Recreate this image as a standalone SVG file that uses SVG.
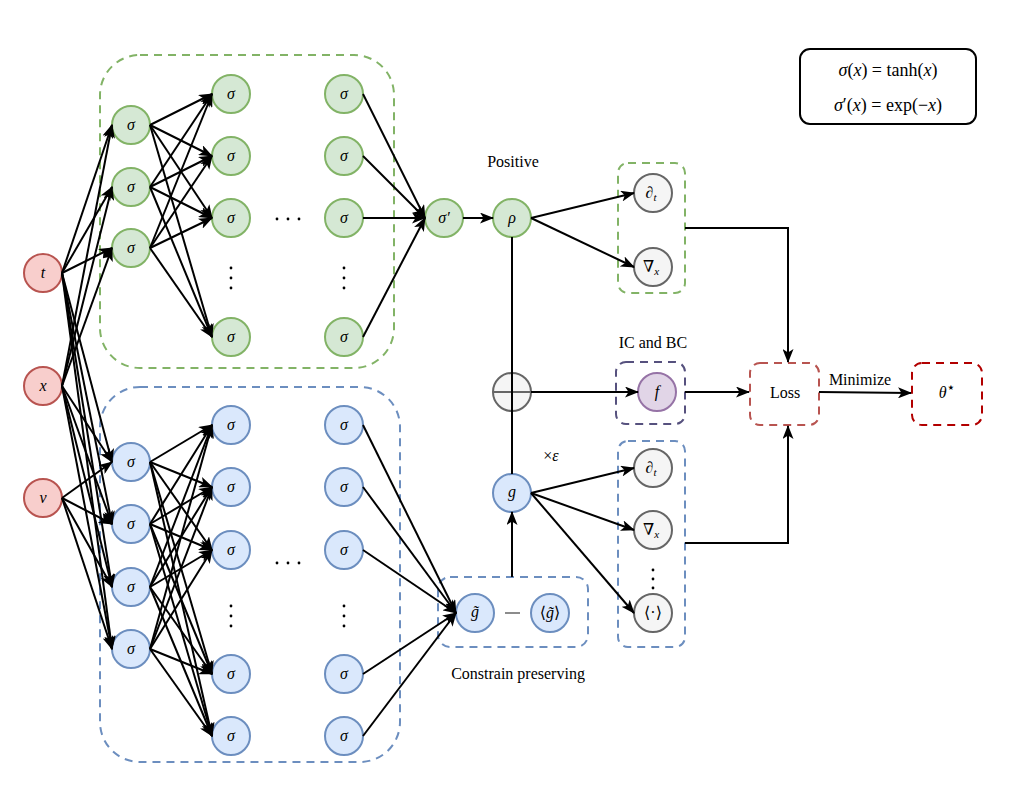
<svg xmlns="http://www.w3.org/2000/svg" width="1020" height="807" viewBox="0 0 1020 807" font-family="'Liberation Serif','DejaVu Serif',serif">
<style>
.g{fill:#d5e8d4;stroke:#82b366;stroke-width:2}
.b{fill:#dae8fc;stroke:#6c8ebf;stroke-width:2}
.r{fill:#f8cecc;stroke:#b85450;stroke-width:2}
.k{fill:#f5f5f5;stroke:#666666;stroke-width:2}
.p{fill:#e1d5e7;stroke:#9673a6;stroke-width:2}
text{font-family:'Liberation Serif','DejaVu Serif',serif}
.t{font-size:16px;text-anchor:middle;fill:#000}
.m{font-style:italic}
.c line,.c path{stroke:#000;stroke-width:2;fill:none}
.a{marker-end:url(#arr)}
.dot{fill:#000}
</style>
<defs>
<marker id="arr" markerUnits="userSpaceOnUse" markerWidth="14" markerHeight="11" viewBox="0 0 14 11" refX="13" refY="5.5" orient="auto"><path d="M0,0 L14,5.5 L0,11 L3.5,5.5 z" fill="#000"/></marker>
</defs>
<rect width="1020" height="807" fill="#fff"/>

<!-- group boxes -->
<g id="topBox"><rect x="100" y="55" width="294" height="313" rx="40" fill="none" stroke="#82b366" stroke-width="2" stroke-dasharray="8 6"/></g>
<g id="botBox"><rect x="100" y="387" width="300" height="375" rx="40" fill="none" stroke="#6c8ebf" stroke-width="2" stroke-dasharray="8 6"/></g>
<g id="constrainBox"><rect x="438" y="577" width="150" height="70" rx="12" fill="none" stroke="#6c8ebf" stroke-width="2" stroke-dasharray="8 6"/></g>
<g id="posBox"><rect x="618" y="163" width="67" height="130" rx="10" fill="none" stroke="#82b366" stroke-width="2" stroke-dasharray="8 6"/></g>
<g id="icBox"><rect x="616" y="362" width="69" height="62" rx="10" fill="none" stroke="#56517e" stroke-width="2" stroke-dasharray="8 6"/></g>
<g id="gBox"><rect x="618" y="441" width="67" height="206" rx="10" fill="none" stroke="#6c8ebf" stroke-width="2" stroke-dasharray="8 6"/></g>
<g id="loss"><rect x="750" y="363" width="69" height="62" rx="10" fill="#fff" stroke="#b85450" stroke-width="2" stroke-dasharray="8 6"/><text class="t" x="785" y="398">Loss</text></g>
<g id="theta"><rect x="912" y="363" width="70" height="62" rx="10" fill="#fff" stroke="#b20000" stroke-width="2" stroke-dasharray="8 6"/><text class="t" x="947" y="398"><tspan class="m">θ</tspan><tspan dy="-6" style="font-size:14px;font-family:'DejaVu Sans',sans-serif">⋆</tspan></text></g>
<g id="legend"><rect x="800" y="49" width="176" height="75" rx="10" fill="#fff" stroke="#000" stroke-width="2"/>
<text class="t" x="888" y="76" style="font-size:18px"><tspan class="m">σ</tspan>(<tspan class="m">x</tspan>) = tanh(<tspan class="m">x</tspan>)</text>
<text class="t" x="888" y="111" style="font-size:18px"><tspan class="m">σ</tspan>′(<tspan class="m">x</tspan>) = exp(−<tspan class="m">x</tspan>)</text></g>

<!-- input nodes -->
<g id="in_t"><circle class="r" cx="43" cy="273" r="19"/><text class="t m" x="43" y="278">t</text></g>
<g id="in_x"><circle class="r" cx="43" cy="386" r="19"/><text class="t m" x="43" y="391">x</text></g>
<g id="in_v"><circle class="r" cx="43" cy="498" r="19"/><text class="t m" x="43" y="503">v</text></g>

<!-- top network -->
<g id="tA1"><circle class="g" cx="131" cy="125" r="19"/><text class="t m" x="131" y="130">σ</text></g>
<g id="tA2"><circle class="g" cx="131" cy="187" r="19"/><text class="t m" x="131" y="192">σ</text></g>
<g id="tA3"><circle class="g" cx="131" cy="248" r="19"/><text class="t m" x="131" y="253">σ</text></g>
<g id="tB1"><circle class="g" cx="231" cy="94" r="19"/><text class="t m" x="231" y="99">σ</text></g>
<g id="tB2"><circle class="g" cx="231" cy="156" r="19"/><text class="t m" x="231" y="161">σ</text></g>
<g id="tB3"><circle class="g" cx="231" cy="218" r="19"/><text class="t m" x="231" y="223">σ</text></g>
<g id="tB4"><circle class="g" cx="231" cy="337" r="19"/><text class="t m" x="231" y="342">σ</text></g>
<g id="tC1"><circle class="g" cx="344" cy="94" r="19"/><text class="t m" x="344" y="99">σ</text></g>
<g id="tC2"><circle class="g" cx="344" cy="156" r="19"/><text class="t m" x="344" y="161">σ</text></g>
<g id="tC3"><circle class="g" cx="344" cy="218" r="19"/><text class="t m" x="344" y="223">σ</text></g>
<g id="tC4"><circle class="g" cx="344" cy="337" r="19"/><text class="t m" x="344" y="342">σ</text></g>
<g id="tDots">
<circle class="dot" cx="277" cy="219" r="1.4"/><circle class="dot" cx="288" cy="219" r="1.4"/><circle class="dot" cx="299" cy="219" r="1.4"/>
<circle class="dot" cx="231" cy="268" r="1.4"/><circle class="dot" cx="231" cy="278" r="1.4"/><circle class="dot" cx="231" cy="288" r="1.4"/>
<circle class="dot" cx="344" cy="268" r="1.4"/><circle class="dot" cx="344" cy="278" r="1.4"/><circle class="dot" cx="344" cy="288" r="1.4"/>
</g>
<g id="sigmaPrime"><circle class="g" cx="444" cy="218" r="19"/><text class="t m" x="444" y="223">σ′</text></g>
<g id="rho"><circle class="g" cx="512" cy="218" r="19"/><text class="t m" x="512" y="223">ρ</text></g>

<!-- bottom network -->
<g id="bA1"><circle class="b" cx="131" cy="462" r="19"/><text class="t m" x="131" y="467">σ</text></g>
<g id="bA2"><circle class="b" cx="131" cy="524" r="19"/><text class="t m" x="131" y="529">σ</text></g>
<g id="bA3"><circle class="b" cx="131" cy="587" r="19"/><text class="t m" x="131" y="592">σ</text></g>
<g id="bA4"><circle class="b" cx="131" cy="649" r="19"/><text class="t m" x="131" y="654">σ</text></g>
<g id="bB1"><circle class="b" cx="231" cy="425" r="19"/><text class="t m" x="231" y="430">σ</text></g>
<g id="bB2"><circle class="b" cx="231" cy="487" r="19"/><text class="t m" x="231" y="492">σ</text></g>
<g id="bB3"><circle class="b" cx="231" cy="550" r="19"/><text class="t m" x="231" y="555">σ</text></g>
<g id="bB4"><circle class="b" cx="231" cy="674" r="19"/><text class="t m" x="231" y="679">σ</text></g>
<g id="bB5"><circle class="b" cx="231" cy="736" r="19"/><text class="t m" x="231" y="741">σ</text></g>
<g id="bC1"><circle class="b" cx="344" cy="425" r="19"/><text class="t m" x="344" y="430">σ</text></g>
<g id="bC2"><circle class="b" cx="344" cy="487" r="19"/><text class="t m" x="344" y="492">σ</text></g>
<g id="bC3"><circle class="b" cx="344" cy="550" r="19"/><text class="t m" x="344" y="555">σ</text></g>
<g id="bC4"><circle class="b" cx="344" cy="674" r="19"/><text class="t m" x="344" y="679">σ</text></g>
<g id="bC5"><circle class="b" cx="344" cy="736" r="19"/><text class="t m" x="344" y="741">σ</text></g>
<g id="bDots">
<circle class="dot" cx="277" cy="563" r="1.4"/><circle class="dot" cx="288" cy="563" r="1.4"/><circle class="dot" cx="299" cy="563" r="1.4"/>
<circle class="dot" cx="231" cy="606" r="1.4"/><circle class="dot" cx="231" cy="616" r="1.4"/><circle class="dot" cx="231" cy="626" r="1.4"/>
<circle class="dot" cx="344" cy="606" r="1.4"/><circle class="dot" cx="344" cy="616" r="1.4"/><circle class="dot" cx="344" cy="626" r="1.4"/>
</g>
<g id="gtilde"><circle class="b" cx="475" cy="613" r="19"/><text class="t m" x="475" y="617">g̃</text></g>
<g id="minus"><line x1="505" y1="613" x2="520" y2="613" stroke="#666" stroke-width="1.5"/></g>
<g id="gmean"><circle class="b" cx="550" cy="613" r="19"/><text class="t" x="550" y="618">⟨<tspan class="m">g̃</tspan>⟩</text></g>
<g id="g"><circle class="b" cx="512" cy="493" r="19"/><text class="t m" x="512" y="497">g</text></g>
<g id="oplus"><circle class="k" cx="512" cy="392" r="19"/><line x1="493" y1="392" x2="531" y2="392" stroke="#666" stroke-width="2"/></g>
<g id="f"><circle class="p" cx="657" cy="392" r="19"/><text class="t m" x="657" y="397">f</text></g>

<!-- derivative nodes -->
<g id="dt1"><circle class="k" cx="653" cy="193" r="19"/><text class="t" x="651" y="198">∂<tspan class="m" font-size="11" dy="3">t</tspan></text></g>
<g id="nx1"><circle class="k" cx="653" cy="267" r="19"/><text class="t" x="651" y="272">∇<tspan class="m" font-size="11" dy="3">x</tspan></text></g>
<g id="dt2"><circle class="k" cx="653" cy="468" r="19"/><text class="t" x="651" y="473">∂<tspan class="m" font-size="11" dy="3">t</tspan></text></g>
<g id="nx2"><circle class="k" cx="653" cy="530" r="19"/><text class="t" x="651" y="535">∇<tspan class="m" font-size="11" dy="3">x</tspan></text></g>
<g id="avg"><circle class="k" cx="653" cy="613" r="19"/><text class="t" x="653" y="618">⟨·⟩</text></g>
<g id="gDots"><circle class="dot" cx="653" cy="570" r="1.4"/><circle class="dot" cx="653" cy="579" r="1.4"/><circle class="dot" cx="653" cy="588" r="1.4"/></g>

<!-- labels -->
<g id="labels">
<text class="t" x="513" y="167">Positive</text>
<text class="t" x="653" y="348">IC and BC</text>
<text class="t" x="551" y="461"><tspan>×</tspan><tspan class="m">ε</tspan></text>
<text class="t" x="518" y="679">Constrain preserving</text>
<text class="t" x="860" y="385">Minimize</text>
</g>

<!-- connectors -->
<g id="connectors" class="c">
<line class="a" x1="62" y1="273" x2="112" y2="125"/>
<line class="a" x1="62" y1="273" x2="112" y2="187"/>
<line class="a" x1="62" y1="273" x2="112" y2="248"/>
<line class="a" x1="62" y1="273" x2="112" y2="462"/>
<line class="a" x1="62" y1="273" x2="112" y2="524"/>
<line class="a" x1="62" y1="273" x2="112" y2="587"/>
<line class="a" x1="62" y1="273" x2="112" y2="649"/>
<line class="a" x1="62" y1="386" x2="112" y2="125"/>
<line class="a" x1="62" y1="386" x2="112" y2="187"/>
<line class="a" x1="62" y1="386" x2="112" y2="248"/>
<line class="a" x1="62" y1="386" x2="112" y2="462"/>
<line class="a" x1="62" y1="386" x2="112" y2="524"/>
<line class="a" x1="62" y1="386" x2="112" y2="587"/>
<line class="a" x1="62" y1="386" x2="112" y2="649"/>
<line class="a" x1="62" y1="498" x2="112" y2="462"/>
<line class="a" x1="62" y1="498" x2="112" y2="524"/>
<line class="a" x1="62" y1="498" x2="112" y2="587"/>
<line class="a" x1="62" y1="498" x2="112" y2="649"/>

<line class="a" x1="150" y1="125" x2="212" y2="94"/>
<line class="a" x1="150" y1="125" x2="212" y2="156"/>
<line class="a" x1="150" y1="125" x2="212" y2="218"/>
<line class="a" x1="150" y1="125" x2="212" y2="337"/>
<line class="a" x1="150" y1="187" x2="212" y2="94"/>
<line class="a" x1="150" y1="187" x2="212" y2="156"/>
<line class="a" x1="150" y1="187" x2="212" y2="218"/>
<line class="a" x1="150" y1="187" x2="212" y2="337"/>
<line class="a" x1="150" y1="248" x2="212" y2="94"/>
<line class="a" x1="150" y1="248" x2="212" y2="156"/>
<line class="a" x1="150" y1="248" x2="212" y2="218"/>
<line class="a" x1="150" y1="248" x2="212" y2="337"/>

<line class="a" x1="150" y1="462" x2="212" y2="425"/>
<line class="a" x1="150" y1="462" x2="212" y2="487"/>
<line class="a" x1="150" y1="462" x2="212" y2="550"/>
<line class="a" x1="150" y1="462" x2="212" y2="674"/>
<line class="a" x1="150" y1="462" x2="212" y2="736"/>
<line class="a" x1="150" y1="524" x2="212" y2="425"/>
<line class="a" x1="150" y1="524" x2="212" y2="487"/>
<line class="a" x1="150" y1="524" x2="212" y2="550"/>
<line class="a" x1="150" y1="524" x2="212" y2="674"/>
<line class="a" x1="150" y1="524" x2="212" y2="736"/>
<line class="a" x1="150" y1="587" x2="212" y2="425"/>
<line class="a" x1="150" y1="587" x2="212" y2="487"/>
<line class="a" x1="150" y1="587" x2="212" y2="550"/>
<line class="a" x1="150" y1="587" x2="212" y2="674"/>
<line class="a" x1="150" y1="587" x2="212" y2="736"/>
<line class="a" x1="150" y1="649" x2="212" y2="425"/>
<line class="a" x1="150" y1="649" x2="212" y2="487"/>
<line class="a" x1="150" y1="649" x2="212" y2="550"/>
<line class="a" x1="150" y1="649" x2="212" y2="674"/>
<line class="a" x1="150" y1="649" x2="212" y2="736"/>

<line class="a" x1="363" y1="94" x2="425" y2="218"/>
<line class="a" x1="363" y1="156" x2="425" y2="218"/>
<line class="a" x1="363" y1="218" x2="425" y2="218"/>
<line class="a" x1="363" y1="337" x2="425" y2="218"/>

<line class="a" x1="363" y1="425" x2="456" y2="613"/>
<line class="a" x1="363" y1="487" x2="456" y2="613"/>
<line class="a" x1="363" y1="550" x2="456" y2="613"/>
<line class="a" x1="363" y1="674" x2="456" y2="613"/>
<line class="a" x1="363" y1="736" x2="456" y2="613"/>

<line class="a" x1="463" y1="218" x2="493" y2="218"/>
<line class="a" x1="531" y1="218" x2="634" y2="193"/>
<line class="a" x1="531" y1="218" x2="634" y2="267"/>
<line x1="512" y1="237" x2="512" y2="474"/>
<line class="a" x1="531" y1="392" x2="638" y2="392"/>
<line class="a" x1="512" y1="577" x2="512" y2="512"/>
<line class="a" x1="531" y1="493" x2="634" y2="468"/>
<line class="a" x1="531" y1="493" x2="634" y2="530"/>
<line class="a" x1="531" y1="493" x2="634" y2="613"/>

<path class="a" d="M685,228 L788,228 L788,362"/>
<line class="a" x1="685" y1="392" x2="749" y2="392"/>
<path class="a" d="M685,543 L788,543 L788,426"/>
<line class="a" x1="819" y1="392" x2="911" y2="393"/>
</g>
</svg>
